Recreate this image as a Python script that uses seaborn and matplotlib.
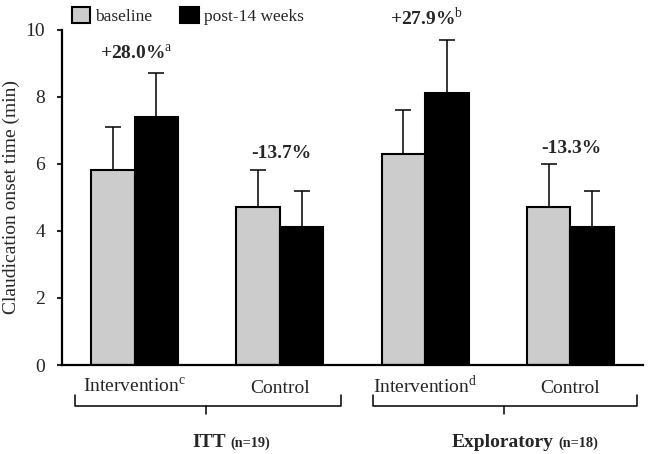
import numpy as np
import pandas as pd
import matplotlib
matplotlib.use("Agg")
import matplotlib.pyplot as plt
import seaborn as sns

# ---- data ----
categories = ["ITT Intervention", "ITT Control", "Exploratory Intervention", "Exploratory Control"]
tick_labels = ["Intervention$^{\\mathrm{c}}$", "Control", "Intervention$^{\\mathrm{d}}$", "Control"]
series = ["baseline", "post-14 weeks"]
baseline_vals = [5.8, 4.7, 6.3, 4.7]
post_vals = [7.4, 4.1, 8.1, 4.1]
baseline_err = [1.3, 1.1, 1.3, 1.3]
post_err = [1.3, 1.1, 1.6, 1.1]
pct_labels = ["+28.0%$^{\\mathrm{a}}$", "-13.7%", "+27.9%$^{\\mathrm{b}}$", "-13.3%"]
pct_y = [9.11, 6.17, 10.14, 6.33]
group_names = ["ITT", "Exploratory"]
group_n = ["(n=19)", "(n=18)"]

df = pd.DataFrame({
    "category": categories * 2,
    "series": [series[0]] * 4 + [series[1]] * 4,
    "value": baseline_vals + post_vals,
})

sns.set_style("white")
plt.rcParams["font.family"] = ["Liberation Serif", "DejaVu Serif"]
plt.rcParams["mathtext.fontset"] = "custom"
plt.rcParams["mathtext.rm"] = "Liberation Serif"
plt.rcParams["mathtext.bf"] = "Liberation Serif:bold"

fig = plt.figure(figsize=(6.49, 4.54), dpi=100)
ax = fig.add_axes([0.0955, 0.196, 0.8953, 0.739])

sns.barplot(data=df, x="category", y="value", hue="series", order=categories,
            hue_order=series, palette=["#cccccc", "#000000"], width=0.6,
            edgecolor="black", linewidth=1.5, errorbar=None, ax=ax, zorder=2)

for cont, errs in zip(ax.containers, [baseline_err, post_err]):
    xs = [p.get_x() + p.get_width() / 2 for p in cont]
    ys = [p.get_height() for p in cont]
    ax.errorbar(xs, ys, yerr=[np.zeros(len(errs)), errs], fmt="none",
                ecolor="black", elinewidth=1.1, capsize=5.8, capthick=1.1, zorder=1)

ax.set_xlim(-0.5, 3.5)
ax.set_ylim(0, 10)
ax.set_yticks([0, 2, 4, 6, 8, 10])
ax.set_xticks(range(len(categories)))
ax.set_xticklabels(tick_labels, fontsize=14)
for lab in ax.get_xticklabels():
    lab.set_verticalalignment("baseline")
ax.tick_params(axis="x", length=0, pad=20)
ax.tick_params(axis="y", direction="out", length=3.5, width=1.5, labelsize=14, pad=8.5, left=True)
ax.set_xlabel("")
ax.set_ylabel("Claudication onset time (min)", fontsize=14, labelpad=4)
for s in ["top", "right"]:
    ax.spines[s].set_visible(False)
for s in ["left", "bottom"]:
    ax.spines[s].set_linewidth(1.6)
    ax.spines[s].set_color("black")

# percent annotations
for i, (t, y) in enumerate(zip(pct_labels, pct_y)):
    ax.text(i + 0.01, y, t, ha="center", va="baseline", fontsize=14,
            fontweight="bold", clip_on=False)

# brackets
brackets = [(-0.413, 1.418, 0.489), (1.638, 3.46, 2.546)]
for x0, x1, xc in brackets:
    ax.plot([x0, x0, x1, x1], [-0.89, -1.22, -1.22, -0.89], color="black", lw=1.1,
            clip_on=False, solid_joinstyle="round")
    ax.plot([xc, xc], [-1.22, -1.46], color="black", lw=1.1, clip_on=False)

# group labels
name_x = [0.626, 2.884]
for nx, name, n in zip(name_x, group_names, group_n):
    ax.text(nx, -2.44, name, ha="right", va="baseline", fontsize=14,
            fontweight="bold", clip_on=False)
    ax.text(nx + 0.035, -2.44, n, ha="left", va="baseline", fontsize=10.3,
            fontweight="bold", clip_on=False)

# legend
handles, labels = ax.get_legend_handles_labels()
ax.legend_.remove()
fig.legend(handles, labels, loc="center left", bbox_to_anchor=(0.111, 0.965),
           ncol=2, frameon=False, fontsize=12.5, borderpad=0, borderaxespad=0,
           handlelength=1.05, handleheight=1.05, handletextpad=0.3, columnspacing=1.6)

fig.savefig("out.png", dpi=100)
